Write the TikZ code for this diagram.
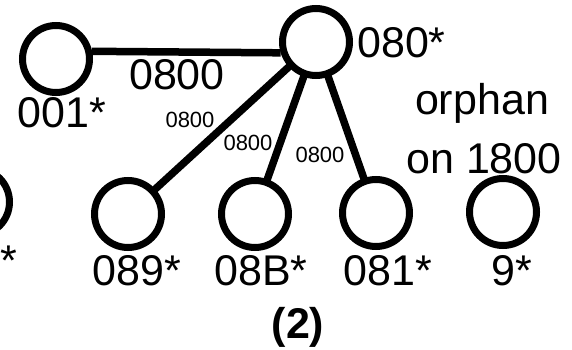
\documentclass[tikz,border=0pt]{standalone}
\usepackage{fontspec}
\setmainfont{Liberation Sans}
\newcommand\bigtxt{\fontsize{43}{43}\selectfont}
\newcommand\smalltxt{\fontsize{22}{22}\selectfont}
\tikzset{
  station/.style={circle, draw=black, line width=7pt, minimum size=67pt, inner sep=0pt, fill=white},
  link/.style={line width=7.5pt, draw=black},
  stationlabel/.style={inner sep=0pt, anchor=base, font=\bigtxt},
  linklabel/.style={inner sep=0pt, anchor=base, font=\smalltxt},
}
\begin{document}
\begin{tikzpicture}[x=1pt,y=-1pt]
  \useasboundingbox (0,0) rectangle (572,350);
  \clip (0,0) rectangle (572,350);
  \fill[white] (0,0) rectangle (572,350);

  % links (drawn first so the circles cover their ends)
  \coordinate (c080) at (316,42);
  \coordinate (c001) at (56,59);
  \coordinate (c089) at (128,214);
  \coordinate (c08B) at (255,214);
  \coordinate (c081) at (376,213);
  \draw[link] (c080) -- (c089);
  \draw[link] (c080) -- (c08B);
  \draw[link] (c080) -- (c081);

  % stations
  \node[station] (n080) at (c080) {};
  \node[station] (n001) at (c001) {};
  \node[station] (n089) at (c089) {};
  \node[station] (n08B) at (c08B) {};
  \node[station] (n081) at (c081) {};
  \node[station] (n9)   at (503,212) {};
  \node[station] (nleft) at (-24,202) {};

  \draw[link] (n001.12) -- (n080.197);

  % station names
  \node[stationlabel] (t001) at (62,128) {001*};
  \node[stationlabel, anchor=base west] (t080) at (357,58) {080*};
  \node[stationlabel] (t089) at (137,285) {089*};
  \node[stationlabel] (t08B) at (261,285) {08B*};
  \node[stationlabel] (t081) at (388,285) {081*};
  \node[stationlabel] (t9) at (512,285) {9*};
  \node[stationlabel, anchor=base west] (tleft) at (0,275) {*};

  % link labels
  \node[stationlabel] (l1) at (177,90) {0800};
  \node[linklabel] (l2) at (190,128) {0800};
  \node[linklabel] (l3) at (248,150) {0800};
  \node[linklabel] (l4) at (320,162) {0800};

  % note on the orphan
  \node[stationlabel] (o1) at (482,114) {orphan};
  \node[stationlabel] (o2) at (484,173) {on 1800};

  % caption
  \node[stationlabel, font=\bigtxt\bfseries] (cap) at (298,338) {(2)};
\end{tikzpicture}
\end{document}
